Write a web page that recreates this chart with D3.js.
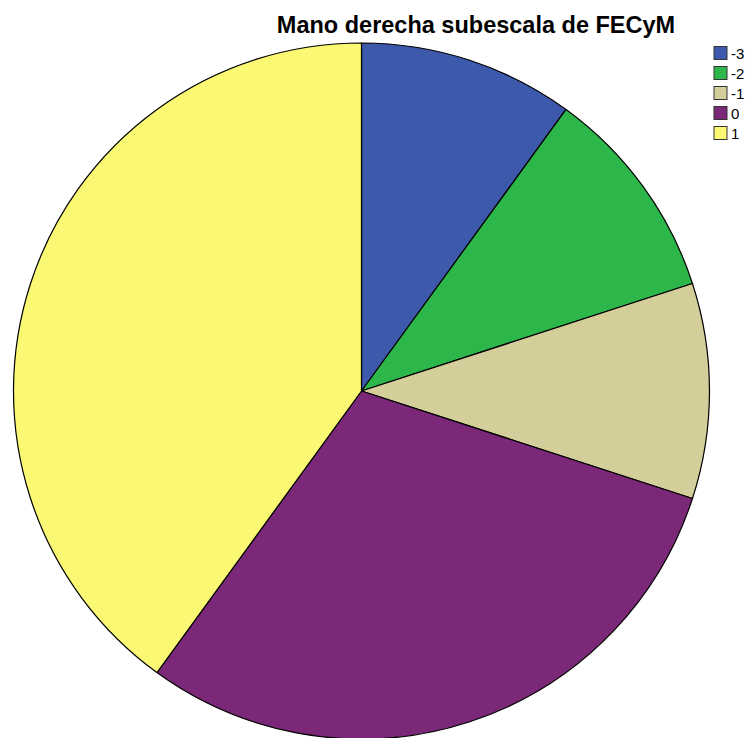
<!DOCTYPE html>
<html>
<head>
<meta charset="utf-8">
<script src="https://cdn.jsdelivr.net/npm/d3@7"></script>
<style>
  body { margin: 0; background: #fff; }
  text { font-family: "Liberation Sans", Arial, sans-serif; }
</style>
</head>
<body>
<div class="chart"></div>
<script>
// categories and their counts
const categories = ['-3', '-2', '-1', '0', '1'];
const counts = [1, 1, 1, 3, 4];
const colors = ['#3d59ab', '#2db74b', '#d4ce9b', '#7b2878', '#fbf873'];

const width = 752, height = 738;
const cx = 361.5, cy = 391, radius = 348;

const data = categories.map((c, i) => ({ cat: c, value: counts[i] }));

const color = d3.scaleOrdinal()
  .domain(categories)
  .range(colors);

const svg = d3.select('.chart')
  .append('svg')
    .attr('width', width)
    .attr('height', height);

// pie starts at 12 o'clock and runs clockwise, in category order
const pie = d3.pie()
  .value(d => d.value)
  .sort(null);

const arc = d3.arc()
  .innerRadius(0)
  .outerRadius(radius);

svg.append('g')
    .attr('transform', `translate(${cx}, ${cy})`)
  .selectAll('path')
    .data(pie(data))
    .enter()
      .append('path')
      .attr('d', arc)
      .attr('fill', d => color(d.data.cat))
      .attr('stroke', '#000')
      .attr('stroke-width', 1.2)
      .attr('stroke-linejoin', 'round');

// title
svg.append('text')
  .attr('x', 476)
  .attr('y', 33)
  .attr('text-anchor', 'middle')
  .style('font-size', '23.5px')
  .style('font-weight', 'bold')
  .text('Mano derecha subescala de FECyM');

// legend
const legend = svg.append('g')
    .selectAll('g')
    .data(categories)
    .enter()
      .append('g')
      .attr('transform', (d, i) => `translate(714, ${46.5 + i * 20})`);

legend.append('rect')
  .attr('width', 13)
  .attr('height', 13)
  .attr('fill', d => color(d))
  .attr('stroke', '#333')
  .attr('stroke-width', 1);

legend.append('text')
  .attr('x', 17)
  .attr('y', 12)
  .style('font-size', '15px')
  .text(d => d);
</script>
</body>
</html>
